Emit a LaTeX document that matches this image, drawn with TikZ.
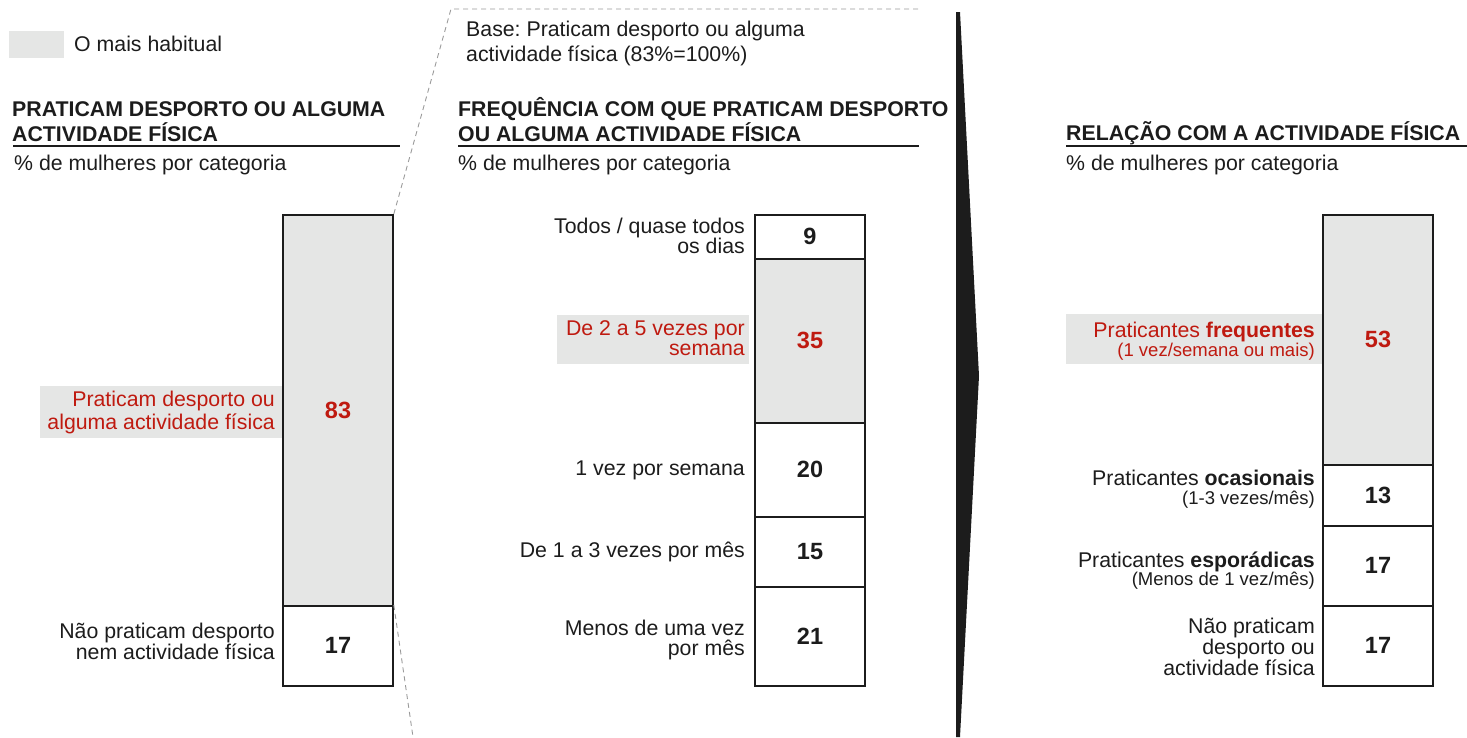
\documentclass[tikz,border=0pt]{standalone}
\usepackage{fontspec}
\setmainfont{Liberation Sans}
\lineskiplimit=-100pt
\frenchspacing
\definecolor{hred}{HTML}{BF1A10}
\definecolor{hgrey}{HTML}{E5E6E5}
\definecolor{ink}{HTML}{1C1C1C}
\definecolor{dashgrey}{HTML}{9A9A9A}
\begin{document}
\begin{tikzpicture}[x=1pt,y=-1pt,
  txt/.style={inner sep=0pt, text=ink, font=\fontsize{21.3}{20}\selectfont},
  ttl/.style={inner sep=0pt, text=ink, align=left, anchor=base west, font=\fontsize{21.3}{25}\selectfont\bfseries},
  lbl/.style={txt, align=right, anchor=base east},
  seg/.style={draw=ink, line width=1.6pt, minimum width=110pt, inner sep=0pt, anchor=north, text=ink, font=\fontsize{23.5}{23.5}\selectfont\bfseries},
  hot/.style={fill=hgrey, text=hred},
  rule/.style={draw=ink, line width=1.3pt},
  guide/.style={draw=dashgrey, line width=0.9pt, dash pattern=on 5pt off 4pt},
  small/.style={font=\fontsize{21.3}{18.5}\selectfont}
]
\useasboundingbox (0,0) rectangle (1467,737);

% legend
\fill[hgrey] (9,31) rectangle (64,58);
\node[txt, anchor=base west] (legend) at (74,51.5) {O mais habitual};

% ---------- left panel ----------
\node[ttl] (t1) at (12,141.8) {PRATICAM DESPORTO OU ALGUMA\\ACTIVIDADE FÍSICA};
\coordinate (u1a) at (13,146); \coordinate (u1b) at (400,146);
\draw[rule] (u1a) -- (u1b);
\node[txt, anchor=base west] (s1) at (14,170) {\% de mulheres por categoria};

\fill[hgrey] (40,386) rectangle (283,438);
\node[seg, hot, minimum height=391pt] (l83) at (338,214) {83};
\node[seg, minimum height=80pt] (l17) at (338,605) {17};
\node[lbl, text=hred, font=\fontsize{21.3}{23.5}\selectfont] (la) at (275,429.5) {Praticam desporto ou\\alguma actividade física};
\node[lbl, font=\fontsize{21.3}{21}\selectfont] (lb) at (275,659) {Não praticam desporto\\nem actividade física};

% zoom guides
\coordinate (gc) at (451,9);
\coordinate (ge) at (920,9);
\coordinate (gb) at (413,737);
\draw[guide] (l83.north east) -- (gc) -- (ge);
\draw[guide] (l17.north east) -- (gb);

% ---------- middle panel ----------
\node[txt, anchor=base west, align=left, font=\fontsize{21.3}{25}\selectfont] (base) at (466,61) {Base: Praticam desporto ou alguma\\actividade física (83\%=100\%)};
\node[ttl] (t2) at (458,141.8) {FREQUÊNCIA COM QUE PRATICAM DESPORTO\\OU ALGUMA ACTIVIDADE FÍSICA};
\coordinate (u2a) at (458,146); \coordinate (u2b) at (919,146);
\draw[rule] (u2a) -- (u2b);
\node[txt, anchor=base west] (s2) at (458,170) {\% de mulheres por categoria};

\fill[hgrey] (557,315) rectangle (749,364);
\node[seg, minimum height=44pt] (m9) at (810,214) {9};
\node[seg, hot, minimum height=164pt] (m35) at (810,258) {35};
\node[seg, minimum height=94pt] (m20) at (810,422) {20};
\node[seg, minimum height=70pt] (m15) at (810,516) {15};
\node[seg, minimum height=99pt] (m21) at (810,586) {21};
\node[lbl] (ma) at (745,253.5) {Todos / quase todos\\os dias};
\node[lbl, text=hred] (mb) at (745,355.5) {De 2 a 5 vezes por\\semana};
\node[lbl] (mc) at (745,475) {1 vez por semana};
\node[lbl] (md) at (745,557) {De 1 a 3 vezes por mês};
\node[lbl] (me) at (745,655) {Menos de uma vez\\por mês};

% separator wedge
\fill[ink] (956,12) -- (960,12) -- (979,376) -- (960,737) -- (956,737) -- cycle;

% ---------- right panel ----------
\node[ttl] (t3) at (1066,140.5) {RELAÇÃO COM A ACTIVIDADE FÍSICA};
\coordinate (u3a) at (1066,146); \coordinate (u3b) at (1467,146);
\draw[rule] (u3a) -- (u3b);
\node[txt, anchor=base west] (s3) at (1066,170) {\% de mulheres por categoria};

\fill[hgrey] (1066,314) rectangle (1323,364);
\node[seg, hot, minimum height=250pt] (r53) at (1378,214) {53};
\node[seg, minimum height=61pt] (r13) at (1378,464) {13};
\node[seg, minimum height=80pt] (r17a) at (1378,525) {17};
\node[seg, minimum height=80pt] (r17b) at (1378,605) {17};
\node[lbl, small, text=hred] (ra) at (1315,356) {Praticantes \textbf{frequentes}\\{\fontsize{18.5}{18.5}\selectfont(1 vez/semana ou mais)}};
\node[lbl, small] (rb) at (1315,504) {Praticantes \textbf{ocasionais}\\{\fontsize{18.5}{18.5}\selectfont(1-3 vezes/mês)}};
\node[lbl, small] (rc) at (1315,585.5) {Praticantes \textbf{esporádicas}\\{\fontsize{18.5}{18.5}\selectfont(Menos de 1 vez/mês)}};
\node[lbl, font=\fontsize{21.3}{21}\selectfont] (rd) at (1315,675) {Não praticam\\desporto ou\\actividade física};
\end{tikzpicture}
\end{document}
